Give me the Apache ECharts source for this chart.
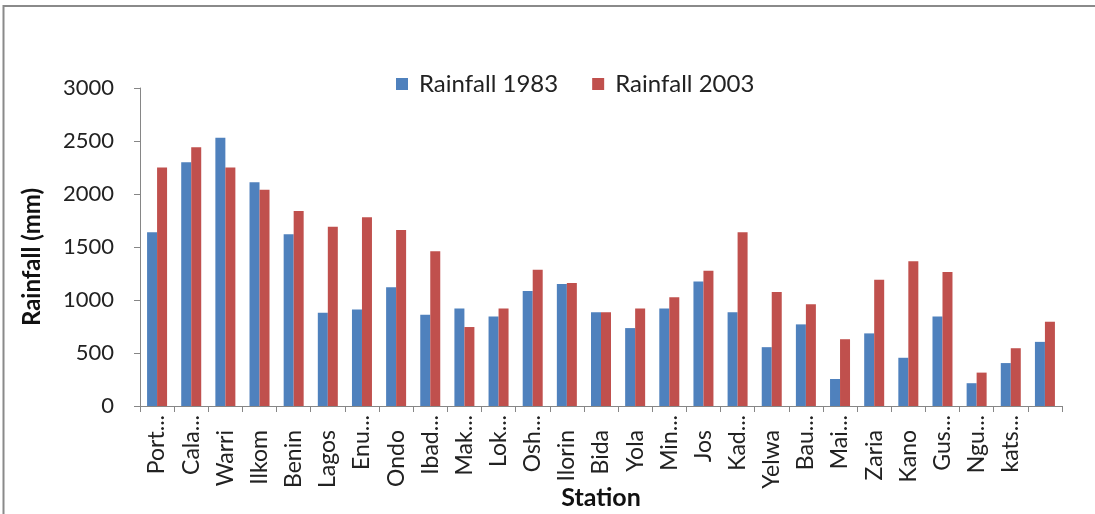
<!DOCTYPE html>
<html>
<head>
<meta charset="utf-8">
<script src="https://cdn.jsdelivr.net/npm/echarts@6/dist/echarts.min.js"></script>
<style>
  html, body { margin: 0; padding: 0; background: #fff; }
  #chart { width: 1095px; height: 514px; }
</style>
</head>
<body>
<div id="chart"></div>
<script>
// Station names as labelled on the category axis (last station unlabelled)
const stations = ['Port...', 'Cala...', 'Warri', 'Ilkom', 'Benin', 'Lagos', 'Enu...', 'Ondo',
  'Ibad...', 'Mak...', 'Lok...', 'Osh...', 'Ilorin', 'Bida', 'Yola', 'Min...', 'Jos', 'Kad...',
  'Yelwa', 'Bau...', 'Mai...', 'Zaria', 'Kano', 'Gus...', 'Ngu...', 'kats...', ''];

// Annual rainfall (mm) per station
const rain1983 = [1640, 2300, 2530, 2110, 1620, 880, 910, 1120, 860, 920, 845, 1085, 1150, 885,
  735, 920, 1175, 885, 555, 770, 255, 685, 455, 845, 215, 405, 605];
const rain2003 = [2250, 2440, 2250, 2040, 1840, 1690, 1780, 1660, 1460, 745, 920, 1285, 1160, 885,
  920, 1025, 1275, 1640, 1075, 960, 630, 1190, 1365, 1265, 315, 545, 795];

const seriesNames = ['Rainfall 1983', 'Rainfall 2003'];
const yTicks = { min: 0, max: 3000, interval: 500 };

const FONT = 'Lato, "Noto Sans", sans-serif';
const AXIS_GREY = '#868686';

const chart = echarts.init(document.getElementById('chart'), null, { renderer: 'canvas' });

chart.setOption({
  animation: false,
  backgroundColor: '#ffffff',
  textStyle: { fontFamily: FONT },
  graphic: [{
    type: 'polyline',
    shape: { points: [[3.5, 520], [3.5, 6], [1100, 6]] },
    style: { stroke: '#8a8a8a', lineWidth: 2, fill: null },
    silent: true
  }],
  legend: {
    data: seriesNames,
    top: 67,
    left: 391,
    itemWidth: 12,
    itemHeight: 12,
    itemGap: 34,
    icon: 'rect',
    textStyle: { fontFamily: FONT, fontSize: 24, color: '#222', padding: [0, 0, 0, 6] }
  },
  grid: { left: 140, right: 33, top: 88, bottom: 108, outerBoundsMode: 'none', containLabel: false },
  xAxis: {
    type: 'category',
    data: stations,
    name: 'Station',
    nameLocation: 'middle',
    nameGap: 79,
    nameMoveOverlap: false,
    nameTextStyle: { fontFamily: FONT, fontSize: 25, fontWeight: 'bold', color: '#111' },
    axisLine: { show: true, lineStyle: { color: AXIS_GREY, width: 1 } },
    axisTick: { show: true, alignWithLabel: false, length: 6, lineStyle: { color: AXIS_GREY } },
    axisLabel: {
      rotate: 90,
      interval: 0,
      margin: 9,
      fontFamily: FONT,
      fontSize: 23,
      color: '#222',
      // shortened names sit against the axis, full names a little further down
      formatter: (v) => v.endsWith('...') ? '{t|' + v + '}' : '{t|' + v + '}{s| }',
      rich: {
        t: { fontFamily: FONT, fontSize: 23, color: '#222' },
        s: { fontFamily: FONT, fontSize: 23, width: 15 }
      }
    },
    splitLine: { show: false }
  },
  yAxis: {
    type: 'value',
    min: yTicks.min,
    max: yTicks.max,
    interval: yTicks.interval,
    name: 'Rainfall (mm)',
    nameLocation: 'middle',
    nameRotate: 90,
    nameGap: 96,
    nameMoveOverlap: false,
    nameTextStyle: { fontFamily: FONT, fontSize: 24, fontWeight: 'bold', color: '#111', padding: [0, 20, 0, 0] },
    axisLine: { show: true, lineStyle: { color: AXIS_GREY, width: 1 } },
    axisTick: { show: true, inside: false, length: 6, lineStyle: { color: AXIS_GREY } },
    axisLabel: { margin: 26, fontFamily: FONT, fontSize: 22, color: '#222', formatter: (v) => String(v) },
    splitLine: { show: false }
  },
  series: [
    {
      name: seriesNames[0],
      type: 'bar',
      data: rain1983,
      barWidth: 10,
      barGap: '0%',
      itemStyle: { color: '#4F81BD' }
    },
    {
      name: seriesNames[1],
      type: 'bar',
      data: rain2003,
      barWidth: 10,
      barGap: '0%',
      itemStyle: { color: '#C0504D' }
    }
  ]
});
</script>
</body>
</html>
